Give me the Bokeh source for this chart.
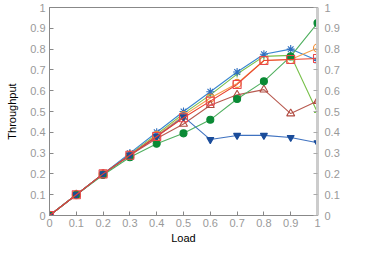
from bokeh.plotting import figure
from bokeh.models import LinearAxis, Range1d, FixedTicker
from bokeh.embed import file_html
from bokeh.resources import INLINE

load = [0, 0.1, 0.2, 0.3, 0.4, 0.5, 0.6, 0.7, 0.8, 0.9, 1.0]
star_blue = [0, 0.1, 0.2, 0.3, 0.4, 0.5, 0.595, 0.69, 0.775, 0.8, 0.745]
plus_green = [0, 0.1, 0.2, 0.295, 0.39, 0.49, 0.58, 0.68, 0.765, 0.77, 0.495]
circ_orange = [0, 0.1, 0.2, 0.29, 0.385, 0.48, 0.565, 0.635, 0.745, 0.75, 0.805]
sq_red = [0, 0.1, 0.2, 0.29, 0.38, 0.47, 0.55, 0.63, 0.745, 0.75, 0.755]
tri_brown = [0, 0.1, 0.2, 0.29, 0.37, 0.44, 0.53, 0.58, 0.605, 0.49, 0.55]
dot_green = [0, 0.1, 0.195, 0.28, 0.345, 0.395, 0.46, 0.56, 0.645, 0.765, 0.925]
inv_blue = [0, 0.1, 0.2, 0.29, 0.38, 0.475, 0.365, 0.385, 0.385, 0.375, 0.35]
ticks = [0, 0.1, 0.2, 0.3, 0.4, 0.5, 0.6, 0.7, 0.8, 0.9, 1]

p = figure(width=358, height=246, output_backend="svg", toolbar_location=None,
           x_range=Range1d(0, 1), y_range=Range1d(0, 1),
           min_border_left=49, min_border_right=41, min_border_top=7, min_border_bottom=20)
p.xgrid.visible = False
p.ygrid.visible = False
p.outline_line_color = "#888888"
p.outline_line_width = 1

FONT = "Liberation Sans"

for ax in (p.xaxis[0], p.yaxis[0]):
    ax.ticker = FixedTicker(ticks=ticks)
    ax.major_tick_in = 4
    ax.major_tick_out = 0
    ax.minor_tick_line_color = None
    ax.axis_line_color = "#888888"
    ax.major_tick_line_color = "#888888"
    ax.major_label_text_color = "#999999"
    ax.major_label_text_font = FONT
    ax.major_label_text_font_size = "11px"
    ax.axis_label_text_font = FONT
    ax.axis_label_text_font_size = "11px"
    ax.axis_label_text_font_style = "normal"
    ax.axis_label_text_color = "#000000"

p.xaxis[0].axis_label = "Load"
p.xaxis[0].major_label_standoff = 3
p.xaxis[0].axis_label_standoff = 2
p.yaxis[0].axis_label = "Throughput"
p.yaxis[0].major_label_standoff = 4
p.yaxis[0].axis_label_standoff = 9

right = LinearAxis(ticker=FixedTicker(ticks=ticks))
right.major_tick_in = 4
right.major_tick_out = 0
right.minor_tick_line_color = None
right.axis_line_color = "#cccccc"
right.axis_line_width = 3
right.major_tick_line_color = "#aaaaaa"
right.major_label_text_color = "#999999"
right.major_label_text_font = FONT
right.major_label_text_font_size = "11px"
right.major_label_standoff = 7
p.add_layout(right, "right")

series = [
    (plus_green, "#78c04a", "#78c04a", "cross", None, 7),
    (star_blue, "#3a87d0", "#2f6fc0", "asterisk", None, 8),
    (circ_orange, "#f5a04a", "#f08a30", "circle", None, 8),
    (tri_brown, "#b85a50", "#b04a40", "triangle", None, 8),
    (dot_green, "#50b060", "#0a8a35", "circle", "#0a8a35", 7),
    (inv_blue, "#3f72c0", "#1a4c9a", "inverted_triangle", "#1a4c9a", 7),
    (sq_red, "#e8402e", "#e8484c", "square", None, 8),
]
for ys, lc, mc, marker, fill, size in series:
    p.line(load, ys, line_color=lc, line_width=1.1)
    p.scatter(load, ys, marker=marker, size=size, line_color=mc, line_width=1.1,
              fill_color=fill if fill else None)

open("out.html", "w").write(file_html(p, INLINE))
